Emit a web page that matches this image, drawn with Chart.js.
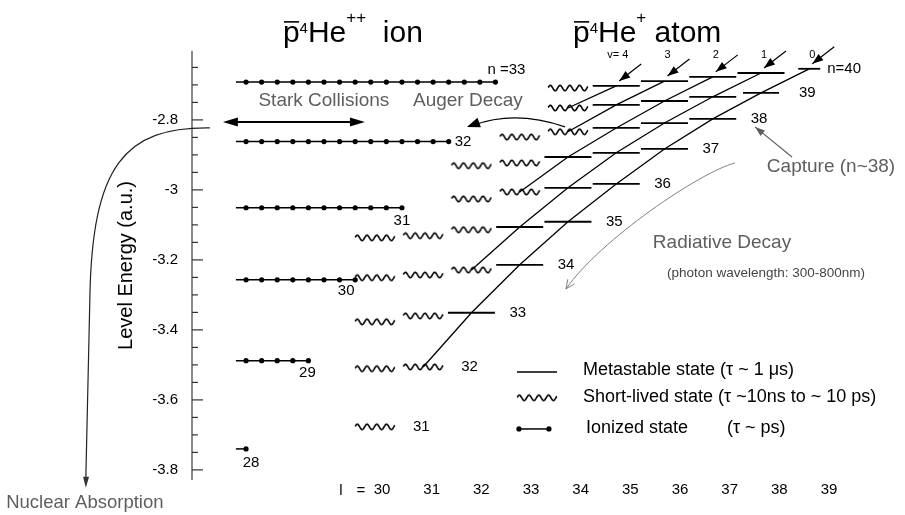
<!DOCTYPE html>
<html>
<head>
<meta charset="utf-8">
<script src="https://cdn.jsdelivr.net/npm/chart.js@4.4.1/dist/chart.umd.min.js"></script>
<style>
html,body{margin:0;padding:0;background:#fff;}
#wrap{position:relative;width:905px;height:515px;}
</style>
</head>
<body>
<div id="wrap"><canvas id="c" width="905" height="515"></canvas></div>
<script>
// ---------------- data ----------------
const lTicks = [30, 31, 32, 33, 34, 35, 36, 37, 38, 39];
const yMajorTicks = [-2.8, -3.0, -3.2, -3.4, -3.6, -3.8];
const yMinorTicks = [-2.65, -2.7, -2.75, -2.85, -2.9, -2.95, -3.05, -3.1, -3.15,
                     -3.25, -3.3, -3.35, -3.45, -3.5, -3.55, -3.65, -3.7, -3.75];

// pbar-4He++ ion levels (principal quantum number, energy, number of dots drawn)
const ionN = [28, 29, 30, 31, 32, 33];
const ionE = [-3.740, -3.488, -3.257, -3.051, -2.862, -2.692];
const ionDots = [1, 5, 8, 11, 14, 17];

// pbar-4He+ atom states (n, l, energy, kind: M = metastable, S = short-lived)
const stateN = [40, 40, 40, 40, 40, 40,
                39, 39, 39, 39, 39,
                38, 38, 38, 38, 38,
                37, 37, 37, 37, 37,
                36, 36, 36, 36,
                35, 35, 35, 35, 35,
                34, 34, 34, 34,
                33, 33, 33,
                32, 32,
                31];
const stateL = [34, 35, 36, 37, 38, 39,
                34, 35, 36, 37, 38,
                33, 34, 35, 36, 37,
                32, 33, 34, 35, 36,
                32, 33, 34, 35,
                30, 31, 32, 33, 34,
                30, 31, 32, 33,
                30, 31, 32,
                30, 31,
                30];
const stateE = [-2.709, -2.703, -2.689, -2.677, -2.666, -2.654,
                -2.766, -2.757, -2.746, -2.734, -2.723,
                -2.849, -2.834, -2.823, -2.809, -2.797,
                -2.931, -2.923, -2.906, -2.894, -2.883,
                -3.026, -3.006, -2.994, -2.983,
                -3.137, -3.131, -3.114, -3.106, -3.091,
                -3.251, -3.243, -3.229, -3.214,
                -3.377, -3.360, -3.351,
                -3.511, -3.506,
                -3.677];
const stateKind = ['S', 'M', 'M', 'M', 'M', 'M',
                   'S', 'M', 'M', 'M', 'M',
                   'S', 'S', 'M', 'M', 'M',
                   'S', 'S', 'M', 'M', 'M',
                   'S', 'S', 'M', 'M',
                   'S', 'S', 'S', 'M', 'M',
                   'S', 'S', 'S', 'M',
                   'S', 'S', 'M',
                   'S', 'S',
                   'S'];

// constant-v lines (v = n - l - 1): lowest n reached by each line
const vValues = [0, 1, 2, 3, 4];
const vLowestN = [32, 34, 36, 38, 39];

// ---------------- layout / style constants ----------------
const FONT = '"Liberation Sans", Arial, Helvetica, sans-serif';
const ION_X0 = 27.33, ION_STEP = 0.323, ION_LEAD = 0.21;   // dot layout of the ion levels (l units)
const GRAY = '#5e5e5e';

const ANN = {
  stark: {from: [26.85, -2.806], to: [29.793, -2.806]},
  starkText: [28.943, -2.746],
  augerText: [31.927, -2.746],
  auger: {p0: [33.938, -2.82], c: [32.902, -2.771], p1: [31.907, -2.82]},
  capture: {from: [38.642, -2.906], to: [37.876, -2.82]},
  captureText: [39.451, -2.934],
  radText: [37.192, -3.151],
  photonText: [38.104, -3.237],
  rad: {p0: [37.461, -2.923], c1: [36.736, -2.949], c2: [34.663, -3.143], p1: [33.959, -3.283]},
  nuc: {p0: [26.58, -2.823], c1: [24.819, -2.820], c2: [24.135, -2.929], p1: [24.093, -3.314], p2: [24.01, -3.826], tip: [24.01, -3.851]},
  nucText: [23.99, -3.894],
  title1: [28.093, -2.5771], title2: [34.104, -2.5771],
  vLabelE: -2.614,
  legend: {sampleL: 33.358, ionL0: 32.984, ionL1: 33.606, textL: 34.311, text2L: 37.295,
           textE: [-3.514, -3.591, -3.68], sampleE: [-3.52, -3.594, -3.683]}
};

// wavy glyph for short-lived states
const wavy = (() => {
  const c = document.createElement('canvas');
  c.width = 42; c.height = 10;
  const g = c.getContext('2d');
  g.strokeStyle = '#000'; g.lineWidth = 1.6; g.lineJoin = 'round'; g.lineCap = 'round';
  g.beginPath();
  for (let i = 0; i <= 39; i += 0.5) {
    const yy = 5 - 2.7 * Math.sin((i / 39) * Math.PI * 2 * 4 + 0.4);
    if (i === 0) g.moveTo(i + 1.5, yy); else g.lineTo(i + 1.5, yy);
  }
  g.stroke();
  return c;
})();

// ---------------- datasets ----------------
const metaPts = [], shortPts = [];
stateN.forEach((n, i) => {
  const p = {x: stateL[i], y: stateE[i], n: n};
  (stateKind[i] === 'M' ? metaPts : shortPts).push(p);
});

const datasets = [];
datasets.push({
  type: 'scatter', label: 'Metastable', data: metaPts, xAxisID: 'x', yAxisID: 'y',
  pointStyle: 'line',
  pointRadius: c => (c.raw && c.raw.n - c.raw.x === 1 && c.raw.n === 40) ? 11 : (c.raw && c.raw.n - c.raw.x === 1 && c.raw.n === 39 ? 18 : 23.5),
  pointBorderWidth: 1.8, pointBorderColor: '#000', pointBackgroundColor: '#000', order: 2
});
datasets.push({
  type: 'scatter', label: 'Short-lived', data: shortPts, xAxisID: 'x', yAxisID: 'y',
  pointStyle: wavy, pointRadius: 5, order: 2
});
ionN.forEach((n, i) => {
  const pts = [{x: ION_X0 - ION_LEAD, y: ionE[i]}];
  for (let k = 0; k < ionDots[i]; k++) pts.push({x: ION_X0 + k * ION_STEP, y: ionE[i]});
  datasets.push({
    type: 'line', label: 'ion n=' + n, data: pts, xAxisID: 'x', yAxisID: 'y',
    borderColor: '#000', borderWidth: 1.5, tension: 0,
    pointRadius: c => c.dataIndex === 0 ? 0 : 2.6,
    pointBackgroundColor: '#000', pointBorderWidth: 0, order: 1
  });
});
vValues.forEach((v, j) => {
  const pts = [];
  stateN.forEach((n, i) => {
    if (n - stateL[i] - 1 === v && n >= vLowestN[j]) pts.push({x: stateL[i], y: stateE[i], n: n});
  });
  pts.sort((a, b) => b.n - a.n);
  datasets.push({
    type: 'line', label: 'v=' + v, data: pts, xAxisID: 'x', yAxisID: 'y',
    borderColor: '#000', borderWidth: 1.3, tension: 0, pointRadius: 0, order: 3
  });
});

// ---------------- drawing helpers ----------------
function head(ctx, x, y, ang, len, half, fill) {
  const c = Math.cos(ang), s = Math.sin(ang);
  const bx = x - len * c, by = y - len * s;
  ctx.beginPath();
  ctx.moveTo(bx + half * s, by - half * c);
  ctx.lineTo(x, y);
  ctx.lineTo(bx - half * s, by + half * c);
  if (fill) { ctx.closePath(); ctx.fill(); } else { ctx.stroke(); }
}
function text(ctx, s, x, y, size, color, align, base) {
  ctx.font = size + 'px ' + FONT;
  ctx.fillStyle = color;
  ctx.textAlign = align || 'center';
  ctx.textBaseline = base || 'middle';
  ctx.fillText(s, x, y);
}
function drawTitle(ctx, x, y, sup2, tail) {
  ctx.textAlign = 'left'; ctx.textBaseline = 'alphabetic'; ctx.fillStyle = '#000';
  ctx.font = '30px ' + FONT;
  ctx.fillText('p', x, y);
  const wp = ctx.measureText('p').width;
  ctx.strokeStyle = '#000'; ctx.lineWidth = 1.6;
  ctx.beginPath(); ctx.moveTo(x + 1, y - 20); ctx.lineTo(x + wp - 0.5, y - 20); ctx.stroke();
  let cx = x + wp;
  ctx.font = '15px ' + FONT;
  ctx.fillText('4', cx, y - 9);
  cx += ctx.measureText('4').width;
  ctx.font = '30px ' + FONT;
  ctx.fillText('He', cx, y);
  cx += ctx.measureText('He').width;
  ctx.font = '17px ' + FONT;
  ctx.fillText(sup2, cx, y - 19);
  cx += ctx.measureText(sup2).width;
  ctx.font = '30px ' + FONT;
  ctx.fillText(tail, cx, y);
}

const deco = {
  id: 'deco',
  afterDraw(chart) {
    const ctx = chart.ctx;
    const xs = chart.scales.x, ys = chart.scales.y, xl = chart.scales.xl;
    const P = (a) => [xs.getPixelForValue(a[0]), ys.getPixelForValue(a[1])];
    ctx.save();

    // y-axis inward tick marks
    ctx.strokeStyle = '#333'; ctx.lineWidth = 1.2;
    const ax = ys.right;
    yMajorTicks.forEach(v => { const y = ys.getPixelForValue(v); ctx.beginPath(); ctx.moveTo(ax, y); ctx.lineTo(ax + 11, y); ctx.stroke(); });
    yMinorTicks.forEach(v => { const y = ys.getPixelForValue(v); ctx.beginPath(); ctx.moveTo(ax, y); ctx.lineTo(ax + 6, y); ctx.stroke(); });

    // "l =" before the first l tick
    const x30 = xl.getPixelForValue(lTicks[0]);
    const lblY = xl.top + 12;
    text(ctx, 'l', x30 - 41, lblY, 15, '#000');
    text(ctx, '=', x30 - 21, lblY, 15, '#000');

    // titles
    let p = P(ANN.title1); drawTitle(ctx, p[0], p[1], '++', '  ion');
    p = P(ANN.title2); drawTitle(ctx, p[0], p[1], '+', ' atom');

    // ion level labels
    ionN.forEach((n, i) => {
      const xd = xs.getPixelForValue(ION_X0 + (ionDots[i] - 1) * ION_STEP), yd = ys.getPixelForValue(ionE[i]);
      const off = {28: [5, 14, 'center'], 29: [-1, 12, 'center'], 30: [-9, 11, 'center'], 31: [0, 13, 'center'], 32: [6, 0, 'left'], 33: [-8, -12, 'left']}[n];
      text(ctx, n === 33 ? 'n =' + n : String(n), xd + off[0], yd + off[1], 15, '#000', off[2]);
    });

    // atom row labels (right of the last state of each n)
    const rows = [...new Set(stateN)];
    rows.forEach(n => {
      let best = -1;
      stateN.forEach((m, i) => { if (m === n && (best < 0 || stateL[i] > stateL[best])) best = i; });
      const x = xs.getPixelForValue(stateL[best]), y = ys.getPixelForValue(stateE[best]);
      if (n === 40) text(ctx, 'n=' + n, x + 18, y, 15, '#000', 'left');
      else text(ctx, String(n), x + 38, y, 15, '#000', 'left');
    });

    // v arrows and labels at the top
    ctx.strokeStyle = '#000'; ctx.fillStyle = '#000'; ctx.lineWidth = 1.2;
    vValues.forEach(v => {
      const i = stateN.findIndex((n, k) => n === 40 && n - stateL[k] - 1 === v);
      const sx = xs.getPixelForValue(stateL[i]), sy = ys.getPixelForValue(stateE[i]);
      const tx = sx + 3, ty = sy - 5, fx = sx + 25, fy = sy - 22;
      ctx.strokeStyle = '#000'; ctx.fillStyle = '#000';
      ctx.beginPath(); ctx.moveTo(fx, fy); ctx.lineTo(tx, ty); ctx.stroke();
      head(ctx, tx, ty, Math.atan2(ty - fy, tx - fx), 11, 4, true);
      const ly = ys.getPixelForValue(ANN.vLabelE);
      if (v === 4) { text(ctx, 'v= ', sx + 6, ly, 11, '#000', 'right'); text(ctx, String(v), sx + 6, ly, 11, '#000', 'left'); }
      else text(ctx, String(v), sx + 3, ly, 11, '#000', 'center');
    });

    // Stark collisions double arrow
    let a = P(ANN.stark.from), b = P(ANN.stark.to);
    ctx.strokeStyle = '#000'; ctx.fillStyle = '#000'; ctx.lineWidth = 1.8;
    ctx.beginPath(); ctx.moveTo(a[0] + 8, a[1]); ctx.lineTo(b[0] - 8, b[1]); ctx.stroke();
    head(ctx, a[0], a[1], Math.PI, 15, 4.5, true);
    head(ctx, b[0], b[1], 0, 15, 4.5, true);
    p = P(ANN.starkText); text(ctx, 'Stark Collisions', p[0], p[1], 19, GRAY);
    p = P(ANN.augerText); text(ctx, 'Auger Decay', p[0], p[1], 19, GRAY);

    // Auger arrow
    a = P(ANN.auger.p0); let c = P(ANN.auger.c); b = P(ANN.auger.p1);
    ctx.strokeStyle = '#000'; ctx.fillStyle = '#000'; ctx.lineWidth = 1.3;
    ctx.beginPath(); ctx.moveTo(a[0], a[1]); ctx.quadraticCurveTo(c[0], c[1], b[0] + 6, b[1] - 1.5); ctx.stroke();
    head(ctx, b[0], b[1], Math.atan2(b[1] - c[1], b[0] - c[0]), 13, 5, true);

    // Capture
    a = P(ANN.capture.from); b = P(ANN.capture.to);
    ctx.strokeStyle = GRAY; ctx.fillStyle = GRAY; ctx.lineWidth = 1.2;
    ctx.beginPath(); ctx.moveTo(a[0], a[1]); ctx.lineTo(b[0], b[1]); ctx.stroke();
    head(ctx, b[0], b[1], Math.atan2(b[1] - a[1], b[0] - a[0]), 10, 3.5, true);
    p = P(ANN.captureText); text(ctx, 'Capture (n~38)', p[0], p[1], 19, GRAY);

    // Radiative decay
    p = P(ANN.radText); text(ctx, 'Radiative Decay', p[0], p[1], 19, GRAY);
    p = P(ANN.photonText); text(ctx, '(photon wavelength: 300-800nm)', p[0], p[1], 13.5, '#444');
    a = P(ANN.rad.p0); c = P(ANN.rad.c1); let d = P(ANN.rad.c2); b = P(ANN.rad.p1);
    ctx.strokeStyle = '#808080'; ctx.lineWidth = 1;
    ctx.beginPath(); ctx.moveTo(a[0], a[1]); ctx.bezierCurveTo(c[0], c[1], d[0], d[1], b[0], b[1]); ctx.stroke();
    head(ctx, b[0], b[1], Math.atan2(b[1] - d[1], b[0] - d[0]), 9, 4, false);

    // Nuclear absorption
    const n0 = P(ANN.nuc.p0), n1 = P(ANN.nuc.c1), n2 = P(ANN.nuc.c2), n3 = P(ANN.nuc.p1), n4 = P(ANN.nuc.p2), nt = P(ANN.nuc.tip);
    ctx.strokeStyle = '#222'; ctx.fillStyle = '#333'; ctx.lineWidth = 1.2;
    ctx.beginPath(); ctx.moveTo(n0[0], n0[1]); ctx.bezierCurveTo(n1[0], n1[1], n2[0], n2[1], n3[0], n3[1]); ctx.lineTo(n4[0], n4[1]); ctx.stroke();
    head(ctx, nt[0], nt[1], Math.atan2(nt[1] - n3[1], nt[0] - n3[0]), 11, 3, true);
    p = P(ANN.nucText); text(ctx, 'Nuclear Absorption', p[0], p[1], 18.5, GRAY);

    // legend
    const L = ANN.legend;
    const lx = xs.getPixelForValue(L.sampleL);
    let ly = ys.getPixelForValue(L.sampleE[0]);
    ctx.strokeStyle = '#000'; ctx.fillStyle = '#000'; ctx.lineWidth = 1.5;
    ctx.beginPath(); ctx.moveTo(lx - 20, ly); ctx.lineTo(lx + 20, ly); ctx.stroke();
    ly = ys.getPixelForValue(L.sampleE[1]);
    ctx.drawImage(wavy, lx - 21, ly - 5);
    ly = ys.getPixelForValue(L.sampleE[2]);
    const ix0 = xs.getPixelForValue(L.ionL0), ix1 = xs.getPixelForValue(L.ionL1);
    ctx.beginPath(); ctx.moveTo(ix0, ly); ctx.lineTo(ix1, ly); ctx.stroke();
    [ix0, ix1].forEach(x => { ctx.beginPath(); ctx.arc(x, ly, 2.6, 0, Math.PI * 2); ctx.fill(); });
    const tx = xs.getPixelForValue(L.textL);
    text(ctx, 'Metastable state (\u03C4 ~ 1 \u03BCs)', tx, ys.getPixelForValue(L.textE[0]), 18, '#000', 'left');
    text(ctx, 'Short-lived state (\u03C4 ~10ns to ~ 10 ps)', tx, ys.getPixelForValue(L.textE[1]), 18, '#000', 'left');
    text(ctx, 'Ionized state', tx + 3, ys.getPixelForValue(L.textE[2]), 18, '#000', 'left');
    text(ctx, '(\u03C4 ~ ps)', xs.getPixelForValue(L.text2L), ys.getPixelForValue(L.textE[2]), 18, '#000', 'left');

    ctx.restore();
  }
};

Chart.defaults.font.family = FONT;
new Chart(document.getElementById('c'), {
  data: {datasets: datasets},
  options: {
    responsive: false, animation: false, events: [],
    layout: {autoPadding: false, padding: {left: 0, right: 5, top: 52, bottom: 0}},
    plugins: {legend: {display: false}, tooltip: {enabled: false}},
    scales: {
      x: {type: 'linear', display: false, min: 26.21, max: 40.88},
      xl: {
        type: 'linear', position: 'bottom', min: 26.175, max: 40.429,
        afterBuildTicks: s => { s.ticks = lTicks.map(v => ({value: v})); },
        afterFit: s => { s.height = 36; },
        grid: {display: false, drawTicks: false}, border: {display: false},
        ticks: {color: '#000', font: {size: 15}, padding: 2, autoSkip: false, maxRotation: 0, callback: v => String(v)}
      },
      y: {
        type: 'linear', position: 'left', min: -3.826, max: -2.606,
        afterBuildTicks: s => { s.ticks = yMajorTicks.map(v => ({value: v})); },
        afterFit: s => { s.width = 192; },
        grid: {display: false, drawTicks: false},
        border: {display: true, color: '#8a8a8a', width: 2},
        ticks: {color: '#000', font: {size: 15}, padding: 14, callback: v => String(Math.round(v * 10) / 10)},
        title: {display: true, text: 'Level Energy (a.u.)', color: '#000', font: {size: 20}, padding: {top: 114, bottom: 0}}
      }
    }
  },
  plugins: [deco]
});
</script>
</body>
</html>
